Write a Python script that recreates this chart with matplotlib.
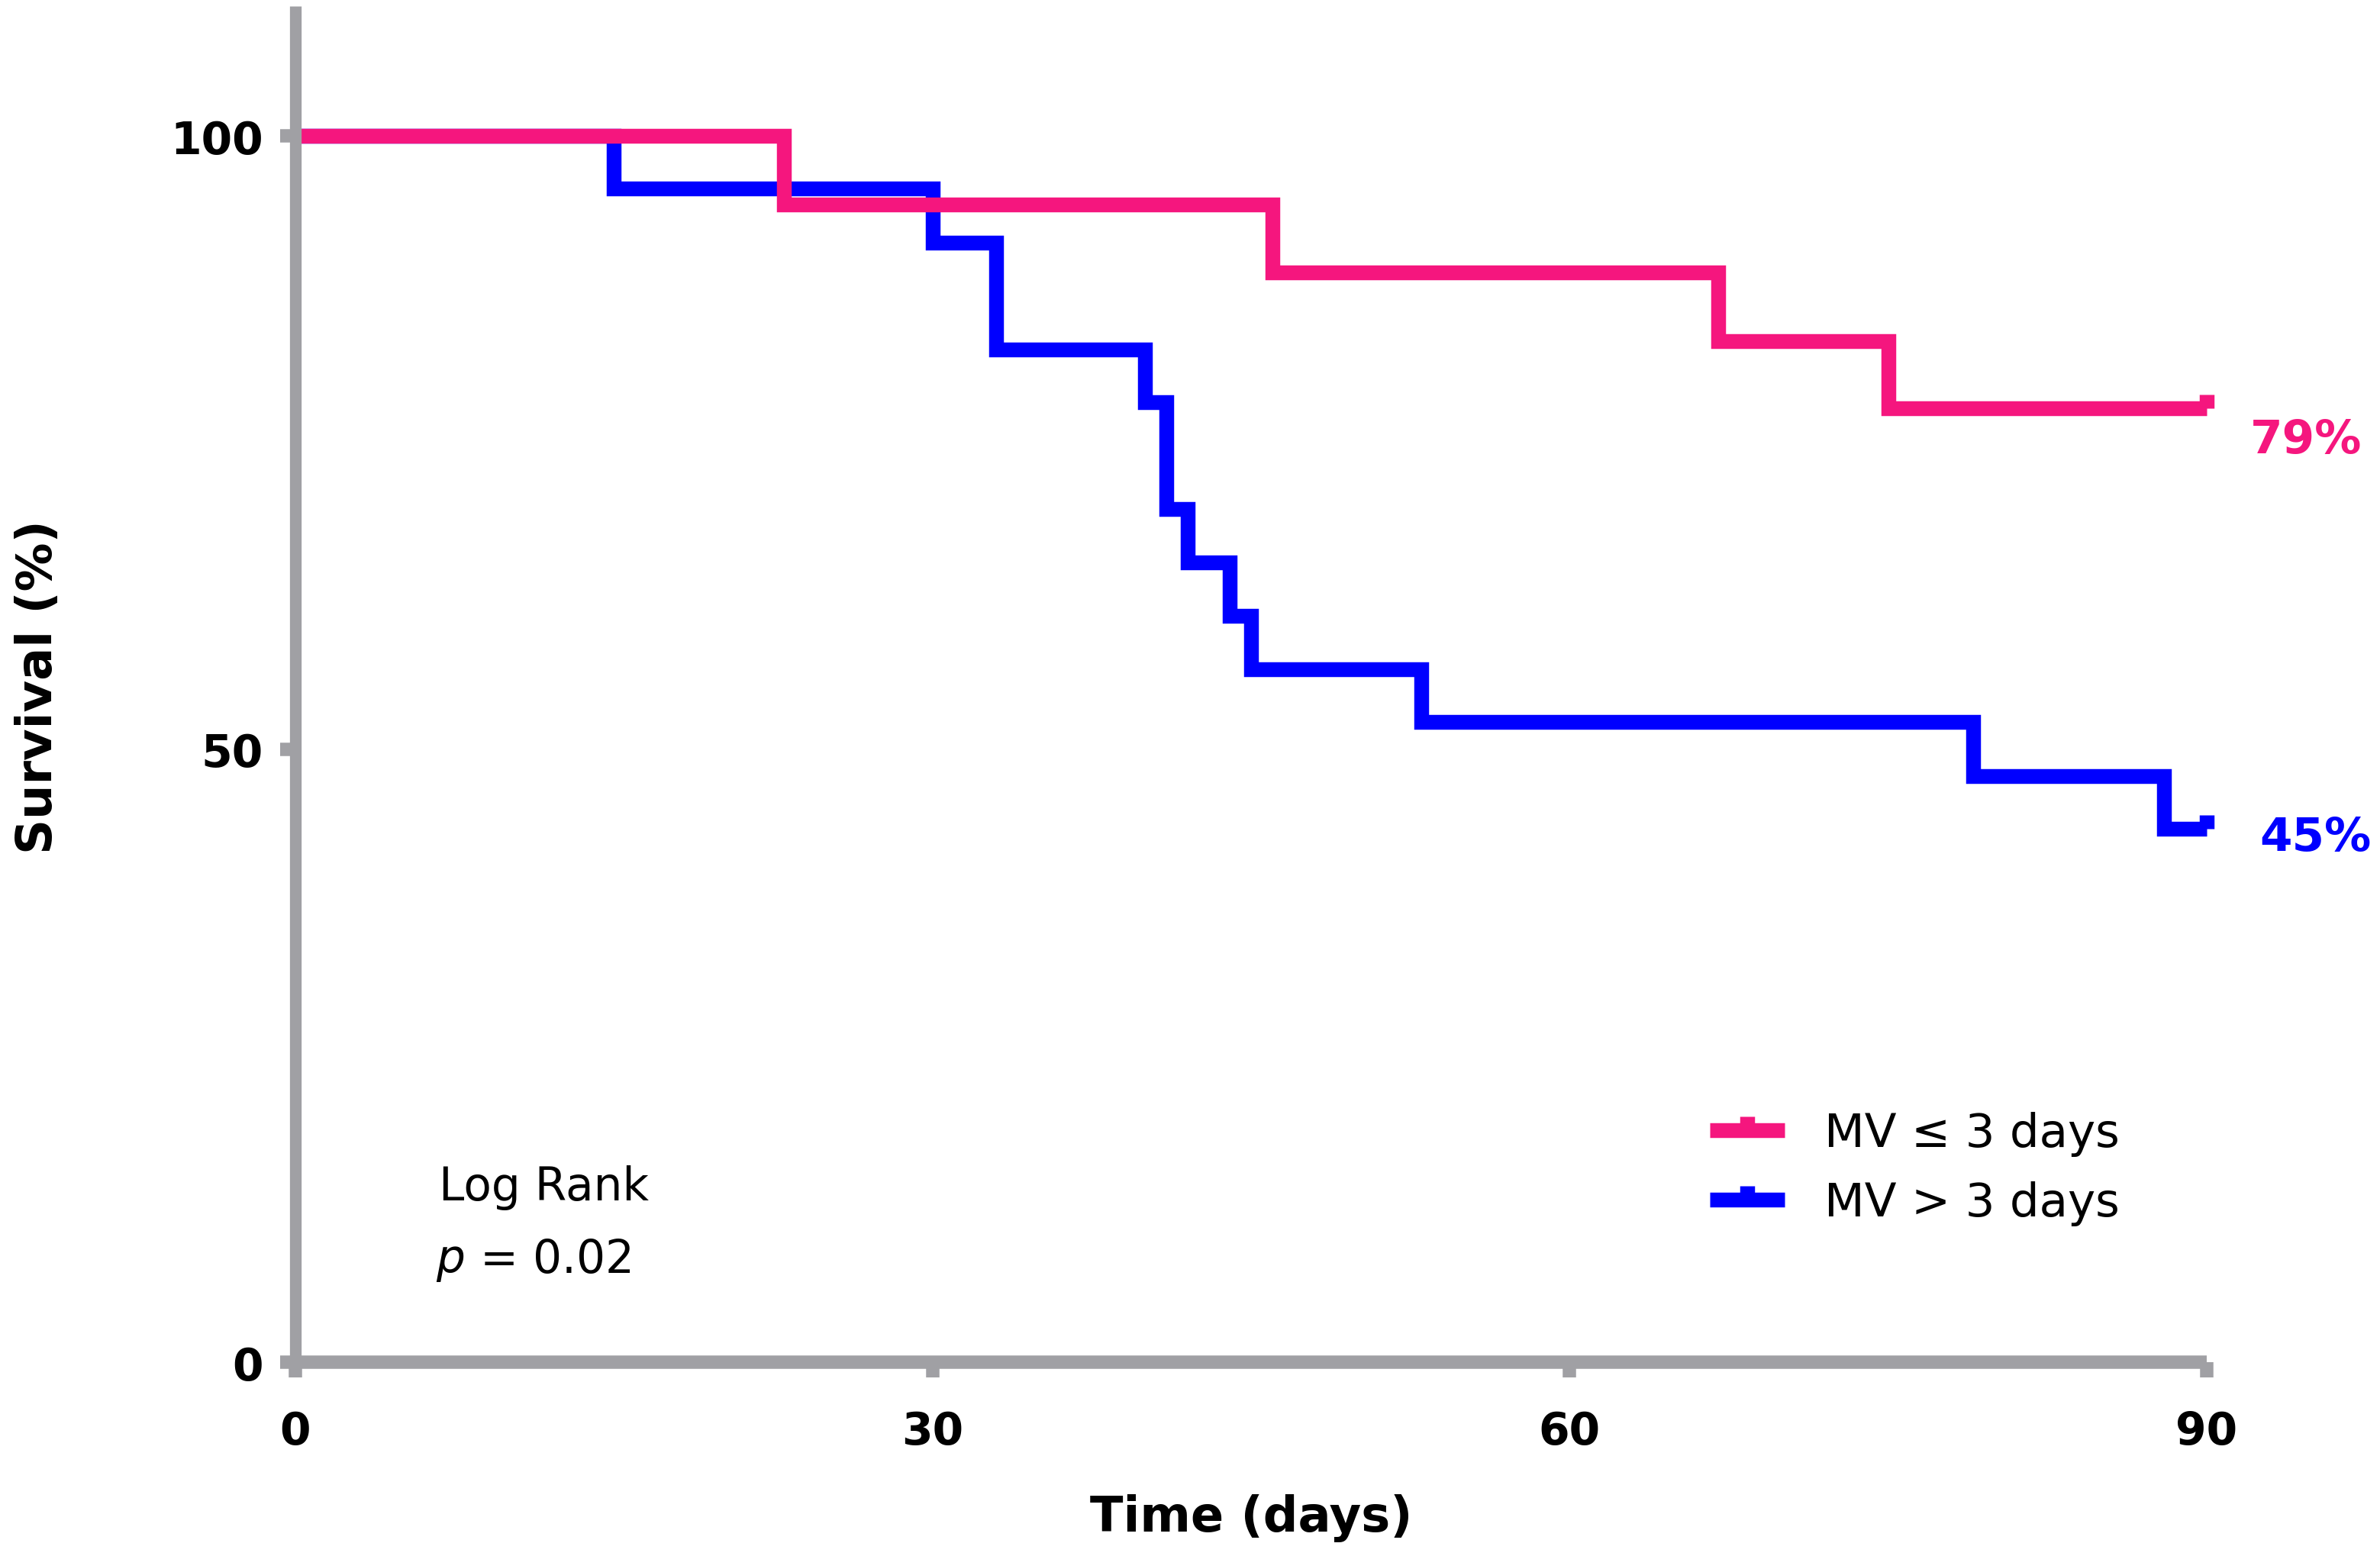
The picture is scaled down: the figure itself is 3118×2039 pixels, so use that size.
import matplotlib.pyplot as plt

# Données (Kaplan-Meier, survie en %)
temps_court = [0, 23, 46, 67, 75, 90]
survie_court = [100, 94.4, 88.9, 83.3, 77.8, 77.8]
temps_long = [0, 15, 30, 33, 40, 41, 42, 44, 45, 53, 79, 88, 90]
survie_long = [100, 95.7, 91.3, 82.6, 78.3, 69.6, 65.2, 60.9, 56.5, 52.2, 47.8, 43.5, 43.5]
groupes = ['MV ≤ 3 days', 'MV > 3 days']
pourcentages = ['79%', '45%']
x_ticks = [0, 30, 60, 90]
y_ticks = [0, 50, 100]

rose = '#f5167e'
bleu = '#0000ff'
gris = '#a0a0a4'

fig = plt.figure(figsize=(15.59, 10.2), dpi=200)
ax = fig.add_axes([0.1241, 0.1245, 0.8031, 0.8711])

# Tracer les courbes en escalier (bleu d'abord, rose par-dessus)
h_long, = ax.step(temps_long, survie_long, where='post', color=bleu, lw=7,
                  marker=2, markevery=[len(temps_long) - 1], ms=6.5, mew=7,
                  solid_joinstyle='miter', solid_capstyle='butt', clip_on=False,
                  label=groupes[1])
h_court, = ax.step(temps_court, survie_court, where='post', color=rose, lw=7,
                   marker=2, markevery=[len(temps_court) - 1], ms=6.5, mew=7,
                   solid_joinstyle='miter', solid_capstyle='butt', clip_on=False,
                   label=groupes[0])

# Pourcentages en fin de courbe
ax.text(92.06, 74.2, pourcentages[0], color=rose, fontsize=22, fontweight='bold',
        va='baseline', ha='left', clip_on=False)
ax.text(92.5, 41.75, pourcentages[1], color=bleu, fontsize=22, fontweight='bold',
        va='baseline', ha='left', clip_on=False)

# Test du log-rank
ax.text(6.76, 13.25, 'Log Rank', fontsize=21.5, va='baseline', ha='left')
ax.text(6.6, 7.34, '$p$ = 0.02', fontsize=21.5, va='baseline', ha='left')

# Axes
ax.set_xlim(0, 90)
ax.set_ylim(0, 110.6)
ax.set_xticks(x_ticks)
ax.set_yticks(y_ticks)
for s in ['top', 'right']:
    ax.spines[s].set_visible(False)
for s in ['left', 'bottom']:
    ax.spines[s].set_color(gris)
    ax.spines[s].set_capstyle('butt')
ax.spines['left'].set_linewidth(5.5)
ax.spines['bottom'].set_linewidth(6.3)
ax.tick_params(axis='both', color=gris, width=6.3, length=7.2, labelsize=21)
ax.tick_params(axis='y', pad=8)
ax.tick_params(axis='x', pad=15)
for lab in ax.get_xticklabels() + ax.get_yticklabels():
    lab.set_fontweight('bold')

ax.set_xlabel('Time (days)', fontsize=23, fontweight='bold')
ax.set_ylabel('Survival (%)', fontsize=23, fontweight='bold')
ax.xaxis.set_label_coords(0.5, -0.0968)
ax.yaxis.set_label_coords(-0.1222, 0.4986)

ax.legend(handles=[h_court, h_long], loc='upper left', bbox_to_anchor=(0.740, 0.1850),
          frameon=False, fontsize=22, borderpad=0, borderaxespad=0,
          handlelength=1.6, handletextpad=0.85, labelspacing=0.52, numpoints=1)

fig.savefig('out.png', dpi=200)
